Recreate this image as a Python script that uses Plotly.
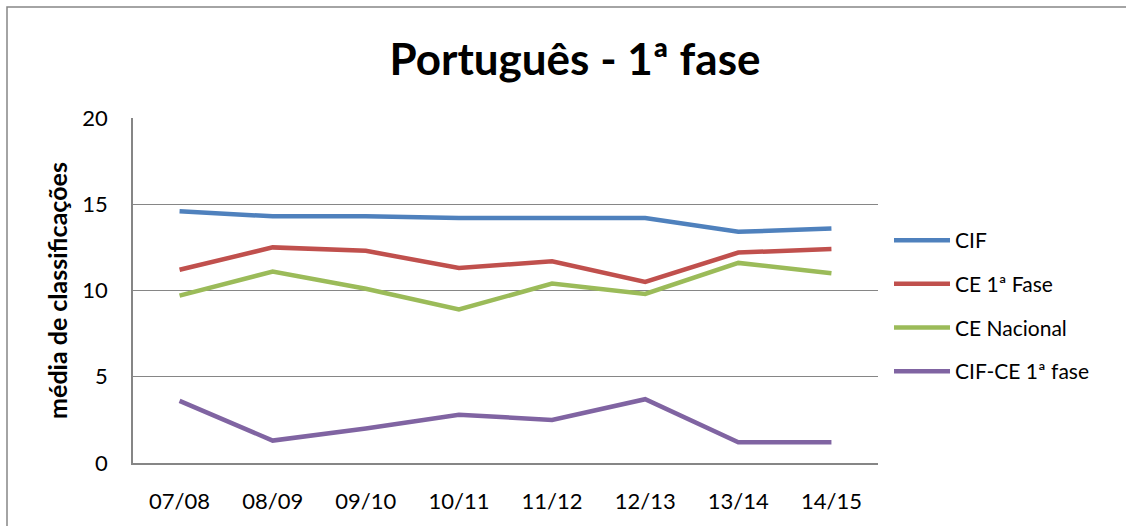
import plotly.graph_objects as go

categories = ["07/08", "08/09", "09/10", "10/11", "11/12", "12/13", "13/14", "14/15"]
cif = [14.6, 14.3, 14.3, 14.2, 14.2, 14.2, 13.4, 13.6]
ce_1fase = [11.2, 12.5, 12.3, 11.3, 11.7, 10.5, 12.2, 12.4]
ce_nacional = [9.7, 11.1, 10.1, 8.9, 10.4, 9.8, 11.6, 11.0]
cif_ce_1fase = [3.6, 1.3, 2.0, 2.8, 2.5, 3.7, 1.2, 1.2]

series_names = ["CIF", "CE 1ª Fase", "CE Nacional", "CIF-CE 1ª fase"]
series_values = [cif, ce_1fase, ce_nacional, cif_ce_1fase]
series_colors = ["#4F81BD", "#C0504D", "#9BBB59", "#8064A2"]

FONT = "Lato, Carlito, Calibri, 'Open Sans', sans-serif"
GRID = "#868686"

fig = go.Figure()
for i, (name, vals, col) in enumerate(zip(series_names, series_values, series_colors)):
    fig.add_trace(go.Scatter(
        x=categories, y=vals, name=name, mode="lines",
        line=dict(color=col, width=4.5),
        legendgroup=f"g{i}",
    ))

# plot area px: left 133, right 878, top 118, bottom 463
L, R, T, B = 133, 878, 118, 463
W, H = 1126, 526
pw, ph = R - L, B - T

def px(x):
    return (x - L) / pw

def py(y):
    return (B - y) / ph

fig.update_layout(
    width=W, height=H,
    margin=dict(l=L, r=W - R, t=T, b=H - B, pad=0),
    paper_bgcolor="white", plot_bgcolor="white",
    font=dict(family=FONT, color="black", size=22),
    title=dict(text="<b>Português - 1ª fase</b>", xref="container", x=575 / W, xanchor="center",
               y=1 - 60 / H, yanchor="middle", font=dict(size=44, family=FONT, color="black")),
    showlegend=True,
    legend=dict(x=px(889), xanchor="left", y=py(220), yanchor="top",
                font=dict(size=21, family=FONT, color="black"),
                tracegroupgap=13.4, itemwidth=56, bgcolor="rgba(0,0,0,0)"),
    xaxis=dict(type="category", range=[-0.5, 7.5], showgrid=False,
               showline=True, linecolor=GRID, linewidth=1.5, ticks="",
               tickfont=dict(size=22), ticklabelstandoff=18, fixedrange=True),
    yaxis=dict(range=[0, 20], tickvals=[0, 5, 10, 15, 20], showgrid=True,
               gridcolor=GRID, gridwidth=1.3, zeroline=False,
               showline=True, linecolor=GRID, linewidth=1.5, ticks="",
               tickfont=dict(size=22), ticklabelstandoff=19,
               title=dict(text="<b>média de classificações</b>", font=dict(size=25), standoff=8),
               fixedrange=True),
    shapes=[dict(type="rect", xref="paper", yref="paper",
                 x0=px(7), x1=px(1135), y0=py(535), y1=py(7),
                 line=dict(color=GRID, width=1.5), fillcolor="rgba(0,0,0,0)", layer="below")],
)

fig.write_html("out.html", config={"displayModeBar": False},
               post_script="document.body.style.margin='0';")
